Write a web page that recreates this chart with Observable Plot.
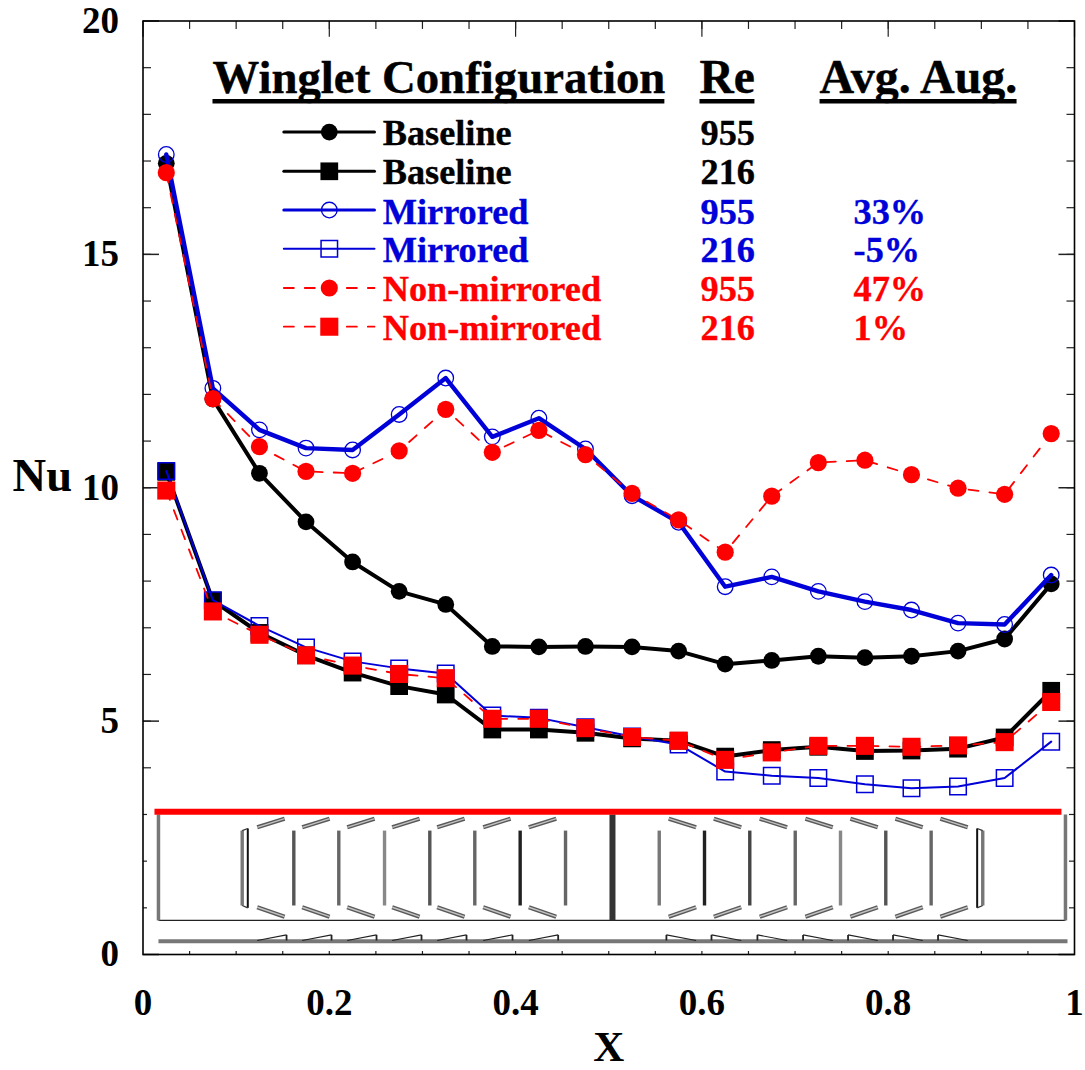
<!DOCTYPE html>
<html>
<head>
<meta charset="utf-8">
<script src="https://cdn.jsdelivr.net/npm/d3@7"></script>
<script src="https://cdn.jsdelivr.net/npm/@observablehq/plot@0.6"></script>
<style>
html,body{margin:0;padding:0;background:#fff}
svg{display:block}
</style>
</head>
<body>
<div id="chart"></div>
<script>
const xStations = [0.025,0.075,0.125,0.175,0.225,0.275,0.325,0.375,0.425,0.475,0.525,0.575,0.625,0.675,0.725,0.775,0.825,0.875,0.925,0.975];
const baseline955 = [16.95,11.9,10.31,9.27,8.41,7.78,7.5,6.6,6.59,6.6,6.59,6.5,6.22,6.3,6.39,6.36,6.39,6.5,6.76,7.94];
const baseline216 = [10.34,7.58,6.89,6.41,6.04,5.75,5.57,4.82,4.82,4.75,4.63,4.58,4.24,4.38,4.45,4.36,4.37,4.41,4.65,5.65];
const mirrored955 = [17.14,12.13,11.24,10.85,10.81,11.57,12.35,11.09,11.49,10.83,9.83,9.26,7.88,8.09,7.78,7.56,7.38,7.1,7.07,8.13];
const mirrored216 = [10.36,7.59,7.04,6.58,6.28,6.13,6.02,5.12,5.07,4.87,4.67,4.5,3.92,3.83,3.78,3.65,3.56,3.6,3.78,4.56];
const nonMirrored955 = [16.75,11.91,10.88,10.35,10.31,10.79,11.68,10.76,11.23,10.71,9.88,9.31,8.62,9.82,10.54,10.59,10.28,9.99,9.86,11.16];
const nonMirrored216 = [9.94,7.35,6.85,6.41,6.19,6.01,5.92,5.05,5.05,4.85,4.66,4.58,4.17,4.33,4.47,4.47,4.45,4.48,4.55,5.41];

const legendNames = ["Baseline","Baseline","Mirrored","Mirrored","Non-mirrored","Non-mirrored"];
const legendRe = ["955","216","955","216","955","216"];
const legendAug = ["","","33%","-5%","47%","1%"];
const legendLineY = [17.62,16.78,15.95,15.12,14.28,13.45];
const legendTextY = [17.34,16.5,15.66,14.84,14.0,13.17];

const xMajor = [0,0.2,0.4,0.6,0.8,1];
const yMajor = [0,5,10,15,20];
const xMinor = d3.range(1,20).map(i => i/20);
const yMinor = d3.range(1,20);

const vanesLeft = [0.1619,0.2102,0.2593,0.3079,0.3562,0.4049,0.4536];
const vanesRight = [0.5542,0.6028,0.6514,0.7002,0.7488,0.7974,0.8461];
const vaneShades = ["#555","#666","#888","#555","#666","#222","#666"];
const vaneShadesR = ["#777","#222","#444","#666","#888","#555","#666"];
const wingsLeft = [0.1226,0.1709,0.2192,0.2675,0.3158,0.3652,0.4142];
const wingsRight = [0.5644,0.6128,0.6621,0.7111,0.7594,0.8077,0.856];
const wingSpan = 0.0294;

const COL = {black:"#000", blue:"#0000d8", red:"#ff0000"};
const SERIF = "'Liberation Serif','Times New Roman',serif";
const toRows = ys => xStations.map((x,i)=>({x,y:ys[i]}));

function series(ys, stroke, sw, dash, symbol, fill, mStroke, r, mSw){
  return [
    Plot.line(toRows(ys),{x:"x",y:"y",stroke,strokeWidth:sw,strokeDasharray:dash,curve:"linear"}),
    Plot.dot(toRows(ys),{x:"x",y:"y",symbol,r,fill,stroke:mStroke,strokeWidth:mSw})
  ];
}
function legendRow(i, stroke, sw, dash, symbol, fill, mStroke, r, mSw){
  const y = legendLineY[i];
  return [
    Plot.line([{x:0.1512,y},{x:0.2485,y}],{x:"x",y:"y",stroke,strokeWidth:sw,strokeDasharray:dash}),
    Plot.dot([{x:0.2,y}],{x:"x",y:"y",symbol,r,fill,stroke:mStroke,strokeWidth:mSw})
  ];
}
const textCommon = {fontFamily:SERIF,fontWeight:"bold",textAnchor:"start",lineAnchor:"bottom"};
const rowColors = [COL.black,COL.black,COL.blue,COL.blue,COL.red,COL.red];
const rowText = (t,x,i) => Plot.text([t],{...textCommon,x:()=>x,y:()=>legendTextY[i],fontSize:36.3,fill:rowColors[i],stroke:rowColors[i],strokeWidth:0.35});
const legendTexts = legendNames.map((t,i)=>[
  rowText(t,0.2573,i),
  rowText(legendRe[i],0.5985,i),
  legendAug[i] ? rowText(legendAug[i],0.7628,i) : null
]);
const headText = (t,x,fs) => Plot.text([t],{...textCommon,x:()=>x,y:()=>18.46,fontSize:fs,fill:"#000",stroke:"#000",strokeWidth:0.4});
const wing = (xs,y1,y2) => [
  Plot.link(xs,{x1:d=>d,x2:d=>d+wingSpan,y1:()=>y1,y2:()=>y2,stroke:"#5a5a5a",strokeWidth:4.2}),
  Plot.link(xs,{x1:d=>d,x2:d=>d+wingSpan,y1:()=>y1,y2:()=>y2,stroke:"#c4c4c4",strokeWidth:1.4})
];

const chart = Plot.plot({
  width:1085,
  height:1070,
  marginLeft:142.5,
  marginRight:11,
  marginTop:20.5,
  marginBottom:116,
  style:{background:"#fff",fontFamily:SERIF},
  x:{domain:[0,1],range:[142.5,1074]},
  y:{domain:[0,20],range:[954,20.5]},
  marks:[
    // ticks on all four sides, pointing inward
    Plot.link(xMinor,{x1:d=>d,x2:d=>d,y1:()=>20,y2:()=>19.83,stroke:"#222",strokeWidth:1.2}),
    Plot.link(xMinor,{x1:d=>d,x2:d=>d,y1:()=>0,y2:()=>0.17,stroke:"#222",strokeWidth:1.2}),
    Plot.link(yMinor,{y1:d=>d,y2:d=>d,x1:()=>0,x2:()=>0.0086,stroke:"#222",strokeWidth:1.2}),
    Plot.link(yMinor,{y1:d=>d,y2:d=>d,x1:()=>1,x2:()=>0.9914,stroke:"#222",strokeWidth:1.2}),
    Plot.link(xMajor,{x1:d=>d,x2:d=>d,y1:()=>20,y2:()=>19.66,stroke:"#222",strokeWidth:1.2}),
    Plot.link(yMajor,{y1:d=>d,y2:d=>d,x1:()=>0,x2:()=>0.0172,stroke:"#222",strokeWidth:1.5}),
    Plot.link(yMajor,{y1:d=>d,y2:d=>d,x1:()=>1,x2:()=>0.9828,stroke:"#222",strokeWidth:1.5}),

    // white panel of the winglet schematic
    Plot.rect([0],{x1:()=>0.0048,x2:()=>0.9946,y1:()=>0.064,y2:()=>3.1,fill:"#fff"}),
    Plot.frame({stroke:"#000",strokeWidth:1.6}),

    // axes
    Plot.axisX({ticks:xMajor,tickSize:0,tickPadding:34,fontSize:37,fontWeight:"bold",label:null,tickFormat:d=>String(d),stroke:"#000",strokeWidth:0.35}),
    Plot.axisY({ticks:yMajor,tickSize:0,tickPadding:24,fontSize:37,fontWeight:"bold",label:null,tickFormat:d=>String(d),stroke:"#000",strokeWidth:0.35}),
    Plot.text(["X"],{x:()=>0.5,y:()=>-2.28,fontFamily:SERIF,fontWeight:"bold",fontSize:43,lineAnchor:"bottom"}),
    Plot.text(["Nu"],{x:()=>-0.14,y:()=>9.94,fontFamily:SERIF,fontWeight:"bold",fontSize:46.5,textAnchor:"start",lineAnchor:"bottom"}),

    // schematic
    Plot.link([0],{x1:()=>0.0166,x2:()=>0.9903,y1:()=>0.73,y2:()=>0.73,stroke:"#222",strokeWidth:1.2}),
    Plot.link([0.0166,0.9903],{x1:d=>d,x2:d=>d,y1:()=>0.73,y2:()=>3,stroke:"#777",strokeWidth:3.5}),
    Plot.link([0.504],{x1:d=>d,x2:d=>d,y1:()=>0.73,y2:()=>3,stroke:"#333",strokeWidth:6}),
    Plot.link(vanesLeft,{x1:d=>d,x2:d=>d,y1:()=>1.05,y2:()=>2.655,stroke:(d,i)=>vaneShades[i],strokeWidth:3.4}),
    Plot.link(vanesRight,{x1:d=>d,x2:d=>d,y1:()=>1.05,y2:()=>2.655,stroke:(d,i)=>vaneShadesR[i],strokeWidth:3.4}),
    Plot.link([0.1065,0.9015],{x1:d=>d,x2:d=>d,y1:()=>1.05,y2:()=>2.655,stroke:"#777",strokeWidth:3.4}),
    Plot.link([0.1125,0.8955],{x1:d=>d,x2:d=>d,y1:()=>1.0,y2:()=>2.7,stroke:"#111",strokeWidth:2}),
    Plot.link([[0.1065,0.1125],[0.9015,0.8955]],{x1:d=>d[0],x2:d=>d[1],y1:()=>2.655,y2:()=>2.7,stroke:"#333",strokeWidth:1.2}),
    Plot.link([[0.1065,0.1125],[0.9015,0.8955]],{x1:d=>d[0],x2:d=>d[1],y1:()=>1.05,y2:()=>1.0,stroke:"#333",strokeWidth:1.2}),
    // slanted winglets seen from above
    wing(wingsLeft,2.725,2.91),
    wing(wingsLeft,1.013,0.81),
    wing(wingsRight,2.91,2.725),
    wing(wingsRight,0.81,1.013),
    // side view strip
    Plot.link([0],{x1:()=>0.0166,x2:()=>0.9925,y1:()=>0.285,y2:()=>0.285,stroke:"#777",strokeWidth:4}),
    Plot.link(wingsLeft,{x1:d=>d,x2:d=>d+0.0315,y1:()=>0.3,y2:()=>0.42,stroke:"#222",strokeWidth:1.1}),
    Plot.link(wingsLeft,{x1:d=>d+0.0315,x2:d=>d+0.0315,y1:()=>0.3,y2:()=>0.42,stroke:"#222",strokeWidth:1.8}),
    Plot.link(wingsRight,{x1:d=>d-0.0025,x2:d=>d+wingSpan,y1:()=>0.42,y2:()=>0.3,stroke:"#222",strokeWidth:1.1}),
    Plot.link(wingsRight,{x1:d=>d-0.0025,x2:d=>d-0.0025,y1:()=>0.3,y2:()=>0.42,stroke:"#222",strokeWidth:1.8}),
    // red plate
    Plot.link([0],{x1:()=>0.0123,x2:()=>0.986,y1:()=>3.06,y2:()=>3.06,stroke:COL.red,strokeWidth:6}),

    // data
    series(baseline955,COL.black,4,null,"circle",COL.black,"none",8.4,0),
    series(baseline216,COL.black,4,null,"square",COL.black,"none",10,0),
    series(mirrored955,COL.blue,4.4,null,"circle","none",COL.blue,7.8,1.3),
    series(mirrored216,COL.blue,2,null,"square","none",COL.blue,9.3,1.5),
    series(nonMirrored955,COL.red,1.8,"10,11","circle",COL.red,"none",8.6,0),
    series(nonMirrored216,COL.red,1.8,"10,11","square",COL.red,"none",10.2,0),

    // legend
    headText("Winglet Configuration",0.0746,46.8),
    headText("Re",0.5974,47.5),
    headText("Avg. Aug.",0.7263,48),
    Plot.link([[0.0746,0.5597],[0.5974,0.6564],[0.7263,0.9378]],{x1:d=>d[0],x2:d=>d[1],y1:()=>18.28,y2:()=>18.28,stroke:"#000",strokeWidth:4.5}),
    legendRow(0,COL.black,3,null,"circle",COL.black,"none",8.4,0),
    legendRow(1,COL.black,3,null,"square",COL.black,"none",10,0),
    legendRow(2,COL.blue,3,null,"circle","none",COL.blue,7.8,1.3),
    legendRow(3,COL.blue,2,null,"square","none",COL.blue,9.3,1.5),
    legendRow(4,COL.red,1.8,"10,11","circle",COL.red,"none",8.6,0),
    legendRow(5,COL.red,1.8,"10,11","square",COL.red,"none",10.2,0),
    legendTexts
  ]
});
document.getElementById("chart").appendChild(chart);
</script>
</body>
</html>
